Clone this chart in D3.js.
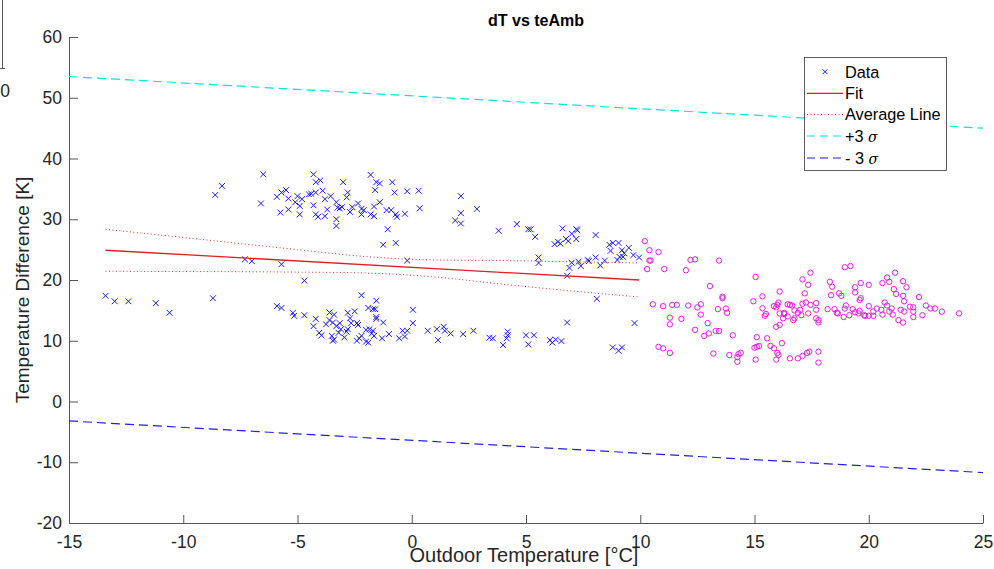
<!DOCTYPE html>
<html>
<head>
	<title>dT vs teAmb</title>
	<meta charset="utf-8">
	<style type="text/css">
		body { margin: 0; background: #fff; }
		text { font-family: "Liberation Sans", Arial, Helvetica, sans-serif; }
	</style>
</head>
<body>

<script type="text/javascript" src="https://cdn.jsdelivr.net/npm/d3@7"></script>
<script type="text/javascript">
	/*=========DATA=========*/
	// blue x markers (outdoor temperature, temperature difference)
	var dataCold = [
		[-13.4,17.4],[-13.0,16.5],[-12.4,16.5],[-11.2,16.2],[-10.6,14.6],[-8.7,17.0],[-8.6,34.0],[-8.3,35.5],
		[-6.5,37.4],[-6.6,32.6],[-7.3,23.4],[-7.0,23.1],[-5.7,22.6],[-4.7,19.9],
		[-5.9,15.7],[-5.7,15.4],[-5.2,14.6],[-5.15,14.1],[-4.7,14.2],[-4.2,13.6],[-4.3,12.4],[-4.05,11.3],[-3.95,10.9],
		[-3.6,14.65],[-3.4,14.3],[-2.8,14.6],[-2.5,14.85],[-2.2,17.5],[-1.55,16.6],[-1.9,15.4],[-1.7,15.2],
		[-3.6,13.4],[-3.45,13.0],[-3.3,12.4],[-3.75,12.7],[-3.15,12.9],[-3.1,11.9],[-3.2,11.3],
		[-2.7,13.7],[-2.65,12.9],[-2.4,12.9],[-2.35,12.6],
		[-3.5,10.8],[-3.4,10.2],[-3.45,10.0],[-2.95,10.55],[-2.85,11.5],[-2.8,11.9],
		[-2.4,10.0],[-2.3,10.4],[-2.2,10.8],[-2.0,11.8],[-1.85,11.9],[-1.7,11.65],[-1.75,11.2],
		[-2.0,9.85],[-1.9,9.7],[-1.65,10.8],[-1.55,13.9],[-1.6,15.2],
		[-1.55,13.6],[-1.25,13.0],[-1.3,10.4],[-1.0,11.1],[-0.55,10.4],[-0.4,11.65],[-0.2,11.65],[-0.3,10.7],
		[0.05,15.1],[0.05,12.9],
		[0.7,11.65],[1.1,11.9],[1.15,10.1],[1.4,12.3],[1.45,11.65],[1.7,11.2],[2.25,11.1],[2.7,11.65],
		[3.4,10.5],[3.55,10.4],[4.0,9.3],[4.15,10.4],[4.2,10.9],[4.2,11.5],[5.0,10.9],[5.35,10.9],[5.1,9.4],
		[6.05,10.1],[6.15,9.7],[6.3,10.2],[6.55,9.95],[6.8,13.0],[8.8,8.9],[9.05,8.35],[9.2,8.9],[9.75,12.9],[8.1,16.9],
		[-5.9,33.7],[-5.7,34.4],[-5.5,34.8],[-5.4,33.4],[-5.75,31.1],[-5.4,31.6],[-5.1,32.8],[-5.0,33.8],
		[-4.9,32.2],[-4.8,33.3],[-4.9,30.8],[-4.5,34.1],[-4.4,34.2],[-4.3,32.3],[-4.3,37.4],[-4.2,36.1],
		[-4.0,36.4],[-4.2,34.4],[-3.9,34.7],[-3.8,33.3],[-3.55,33.8],[-4.2,30.8],[-4.1,30.4],[-3.8,30.5],
		[-3.7,31.6],[-3.3,32.8],[-3.25,31.9],[-3.15,31.8],[-3.05,32.0],[-3.3,30.0],[-3.3,28.9],[-3.0,36.1],
		[-2.8,34.4],[-2.85,33.6],[-2.7,31.2],[-2.6,32.0],[-2.35,32.6],[-2.2,31.7],[-2.1,31.5],[-2.2,30.8],
		[-1.8,37.3],[-1.55,36.1],[-1.6,34.8],[-1.65,32.1],[-1.8,30.8],[-1.65,30.5],
		[-1.4,35.9],[-0.85,36.1],[-0.75,34.4],[-0.2,34.6],[0.3,34.7],[-1.4,32.8],[-1.1,31.5],[-0.9,31.5],
		[-0.7,30.8],[-0.65,30.4],[-0.3,30.9],[0.35,31.8],[-1.05,28.35],[-1.25,25.8],[-0.7,26.1],[-0.2,23.2],
		[2.15,33.8],[2.15,31.0],[1.9,29.8],[2.15,29.3],[2.85,31.7],[3.8,28.1],[4.6,29.2],[5.1,28.35],
		[5.2,28.35],[5.4,27.1],[5.55,23.7],[5.55,22.8],
		[6.25,25.9],[6.4,26.3],[6.5,26.0],[6.6,28.5],[6.75,26.75],[6.85,26.4],[7.0,27.6],[7.2,28.35],
		[7.25,28.2],[7.2,26.75],[6.8,20.7],[6.9,22.0],[7.0,22.85],[7.3,23.0],[7.4,22.3],[7.7,23.3],
		[7.75,23.1],[8.05,23.7],[8.05,27.4],[8.25,22.4],[8.45,23.2],[8.65,25.8],[8.8,26.1],[9.05,26.1],
		[8.7,24.8],[9.0,23.3],[9.1,23.8],[9.25,23.8],[9.3,24.4],[9.2,24.9],[9.5,25.3],[9.7,24.1],[9.95,23.7]
	];
	// magenta circles
	var dataWarm = [
		[10.2,26.4],[10.4,24.9],[10.8,24.6],[10.4,23.2],[10.45,23.2],[10.3,21.8],[11.05,21.8],[12.0,21.6],
		[12.2,23.3],[12.4,23.4],[13.45,23.2],[13.05,19.0],[15.05,20.5],
		[10.55,16.0],[11.0,15.7],[11.4,15.9],[11.6,15.9],[12.1,15.8],[12.5,15.5],[12.65,16.0],[12.65,14.3],
		[11.3,13.8],[11.8,13.6],[11.3,12.7],[12.4,11.8],[12.95,12.9],[12.8,10.8],[13.0,11.2],[13.3,11.6],
		[13.45,11.6],[13.4,15.2],[13.6,17.25],[13.6,17.0],[13.75,15.3],[13.8,14.6],[14.05,10.9],
		[10.8,9.0],[11.0,8.75],[11.3,8.0],[13.2,7.9],[13.9,7.65],[14.25,7.3],[14.3,7.8],[14.4,8.0],[14.25,6.55],
		[14.95,16.5],[15.35,17.3],[15.35,15.35],[15.5,14.4],[15.45,14.1],[15.1,10.6],[15.55,10.4],[15.0,8.85],
		[15.1,9.0],[15.2,9.15],[15.7,9.15],[15.85,8.75],[16.2,9.6],[15.05,6.9],[15.95,6.9],[16.05,7.65],[16.0,8.0],
		[16.55,7.1],[16.9,7.1],[17.1,7.5],[17.3,8.0],[17.4,8.2],[17.8,8.2],[17.8,6.4],
		[15.95,12.3],[16.1,12.6],[15.85,15.7],[15.95,15.5],[16.0,15.9],[16.05,16.3],[16.1,18.1],[16.1,14.5],
		[16.3,14.4],[16.25,13.7],[16.3,14.6],[16.45,16.0],[16.55,15.9],[16.65,15.8],[16.45,14.0],[16.7,13.4],
		[16.75,15.0],[16.9,14.6],[17.0,15.1],[17.05,14.2],[16.75,13.7],[17.1,16.1],[17.25,16.3],[17.45,15.9],
		[17.7,16.2],[17.35,14.5],[17.7,15.1],[17.7,13.7],[17.8,13.4],[17.8,13.0],[17.2,17.8],[17.35,19.2],
		[17.1,20.1],[17.45,21.2],
		[18.2,15.2],[18.5,15.2],[18.6,14.6],[18.65,14.5],[18.9,13.9],[18.95,15.3],[19.0,15.8],[19.15,14.2],
		[19.3,15.2],[19.4,14.7],
		[18.3,19.7],[18.4,18.9],[18.35,17.5],[18.7,17.8],[18.8,17.4],[18.95,22.1],[19.2,22.3],
		[19.4,17.95],[19.4,18.8],[19.6,16.7],[19.65,17.0],[19.65,19.5],[20.0,19.2],[20.0,15.7],
		[19.55,14.5],[19.6,14.9],[19.8,14.2],[19.85,14.1],[20.0,14.1],[20.2,14.8],[20.2,14.1],[20.35,15.3],
		[20.55,15.1],[20.6,14.3],[20.7,16.3],[20.8,15.8],[20.9,14.8],[21.0,15.3],[21.05,14.3],
		[20.6,19.5],[20.8,20.4],[20.9,19.7],[21.15,21.2],[21.1,18.5],[21.2,17.7],[21.5,19.8],[21.65,18.8],
		[21.3,13.4],[21.5,13.0],[21.4,15.1],[21.55,14.8],[21.5,17.4],[21.55,16.5],[21.8,15.6],[21.95,15.5],
		[21.95,14.8],[21.95,13.9],
		[22.2,17.2],[22.35,14.2],[22.5,15.8],[22.7,15.3],[22.9,15.3],[23.2,14.8],[23.95,14.5]
	];

	// fit line
	var fitX = [-13.4, 9.95];
	var fitY = [24.9, 20.0];

	// average line (upper / lower bounds)
	var avgX = [-13.4, -11, -8, -5, -2, 1, 4, 7, 9.95];
	var avgUpper = [28.35, 27.4, 26.2, 25.0, 23.85, 23.3, 23.2, 23.0, 22.8];
	var avgLower = [21.45, 21.4, 21.37, 21.3, 21.15, 20.5, 19.3, 18.2, 17.2];

	// +/- 3 sigma
	var sigmaX = [-15, 25];
	var plusSigma = [53.5, 45.0];
	var minusSigma = [-3.2, -11.7];

	var xTicks = [-15, -10, -5, 0, 5, 10, 15, 20, 25];
	var yTicks = [-20, -10, 0, 10, 20, 30, 40, 50, 60];

	/*=====SIZE SVG======*/
	var w = 994;
	var h = 569;
	var plotL = 69, plotR = 983, plotT = 37, plotB = 523;
	var svg = d3.select("body").append("svg").attr("width", w).attr("height", h);
	svg.append("rect").attr("width", w).attr("height", h).attr("fill", "#fff");

	var x = d3.scaleLinear().domain([-15, 25]).range([plotL, plotR]);
	var y = d3.scaleLinear().domain([-20, 60]).range([plotB, plotT]);

	var axisColor = "#555";
	var textColor = "#262626";

	// leftover of a neighbouring plot (top-left corner)
	svg.append("line").attr("x1", 2.5).attr("x2", 2.5).attr("y1", 0).attr("y2", 69)
		.attr("stroke", axisColor).attr("stroke-width", 1);
	svg.append("line").attr("x1", 0).attr("x2", 5).attr("y1", 68.5).attr("y2", 68.5)
		.attr("stroke", axisColor).attr("stroke-width", 1);
	svg.append("text").attr("x", 10).attr("y", 97).attr("text-anchor", "end")
		.attr("font-size", 17.5).attr("fill", textColor).text("0");

	/*=========AXES============*/
	var fmt = function(d) { return String(d); };
	var xAxis = d3.axisBottom(x).tickValues(xTicks).tickFormat(fmt).tickSizeInner(-8).tickSizeOuter(0).tickPadding(16);
	var yAxis = d3.axisLeft(y).tickValues(yTicks).tickFormat(fmt).tickSizeInner(-9).tickSizeOuter(0).tickPadding(16);

	var gx = svg.append("g").attr("transform", "translate(0," + plotB + ")").call(xAxis);
	var gy = svg.append("g").attr("transform", "translate(" + plotL + ",0)").call(yAxis);
	[gx, gy].forEach(function(g) {
		g.select(".domain").attr("stroke", axisColor);
		g.selectAll(".tick line").attr("stroke", axisColor);
		g.selectAll(".tick text").attr("font-size", 17.5).attr("fill", textColor)
			.attr("font-family", "'Liberation Sans', Arial, sans-serif");
	});
	gy.selectAll(".tick text").attr("x", -7);
	gx.selectAll(".tick text").attr("y", 13);

	/*=========LINES============*/
	var line = d3.line().x(function(d) { return x(d[0]); }).y(function(d) { return y(d[1]); });
	function zip(xs, ys) { return xs.map(function(v, i) { return [v, ys[i]]; }); }

	svg.append("path").attr("d", line(zip(sigmaX, plusSigma)))
		.attr("fill", "none").attr("stroke", "#00e5e5").attr("stroke-width", 1.2).attr("stroke-dasharray", "9,5");
	svg.append("path").attr("d", line(zip(sigmaX, minusSigma)))
		.attr("fill", "none").attr("stroke", "#2020d8").attr("stroke-width", 1.2).attr("stroke-dasharray", "9,5");

	/*=========POINTS============*/
	var s = 2.9;
	svg.append("g").selectAll("path").data(dataCold).enter().append("path")
		.attr("d", function(d) {
			var cx = x(d[0]), cy = y(d[1]);
			return "M" + (cx - s) + "," + (cy - s) + "L" + (cx + s) + "," + (cy + s) +
				"M" + (cx - s) + "," + (cy + s) + "L" + (cx + s) + "," + (cy - s);
		})
		.attr("stroke", "#1a1ae0").attr("stroke-width", 1).attr("fill", "none");

	svg.append("g").selectAll("circle").data(dataWarm).enter().append("circle")
		.attr("cx", function(d) { return x(d[0]); })
		.attr("cy", function(d) { return y(d[1]); })
		.attr("r", 2.7)
		.attr("stroke", "#e51ee5").attr("stroke-width", 1).attr("fill", "none");

	svg.append("path").attr("d", line(zip(fitX, fitY)))
		.attr("fill", "none").attr("stroke", "#e02020").attr("stroke-width", 1.3);
	var curved = d3.line().x(function(d) { return x(d[0]); }).y(function(d) { return y(d[1]); })
		.curve(d3.curveMonotoneX);
	[avgUpper, avgLower].forEach(function(ys) {
		svg.append("path").attr("d", curved(zip(avgX, ys)))
			.attr("fill", "none").attr("stroke", "#e03030").attr("stroke-width", 1).attr("stroke-dasharray", "1,2.5");
	});

	/*=========TEXT============*/
	svg.append("text").attr("x", 536).attr("y", 26).attr("text-anchor", "middle")
		.attr("font-size", 16).attr("font-weight", "bold").attr("fill", "#000").text("dT vs teAmb");
	svg.append("text").attr("x", 524).attr("y", 562).attr("text-anchor", "middle")
		.attr("font-size", 20).attr("fill", textColor).text("Outdoor Temperature [°C]");
	svg.append("text").attr("transform", "translate(29,290) rotate(-90)").attr("text-anchor", "middle")
		.attr("font-size", 19).attr("fill", textColor).text("Temperature Difference [K]");

	/*=========LEGEND============*/
	var legend = svg.append("g");
	legend.append("rect").attr("x", 804.5).attr("y", 57.5).attr("width", 142).attr("height", 113)
		.attr("fill", "#fff").attr("stroke", "#333").attr("stroke-width", 0.8);
	var items = [
		{ label: "Data", type: "x" },
		{ label: "Fit", color: "#e02020", dash: null },
		{ label: "Average Line", color: "#e03030", dash: "1,2.5" },
		{ label: "+3 ", sigma: true, color: "#00e5e5", dash: "8,5" },
		{ label: "- 3 ", sigma: true, color: "#2020d8", dash: "8,5" }
	];
	var rowY = [71.7, 93.3, 114.5, 136, 158];
	items.forEach(function(it, i) {
		var yy = rowY[i];
		if (it.type === "x") {
			var cx = 825, r = 2.4;
			legend.append("path")
				.attr("d", "M" + (cx - r) + "," + (yy - r) + "L" + (cx + r) + "," + (yy + r) +
					"M" + (cx - r) + "," + (yy + r) + "L" + (cx + r) + "," + (yy - r))
				.attr("stroke", "#1a1ae0").attr("stroke-width", 1);
		} else {
			legend.append("line").attr("x1", 807).attr("x2", 843).attr("y1", yy).attr("y2", yy)
				.attr("stroke", it.color).attr("stroke-width", 1.2)
				.attr("stroke-dasharray", it.dash);
		}
		var t = legend.append("text").attr("x", 845).attr("y", yy).attr("dy", "0.36em")
			.attr("font-size", 16.3).attr("fill", "#000").text(it.label);
		if (it.sigma) {
			t.append("tspan").attr("font-style", "italic").attr("font-family", "'DejaVu Serif', serif")
				.attr("font-size", 14).text("σ");
		}
	});
</script>
</body>
</html>
